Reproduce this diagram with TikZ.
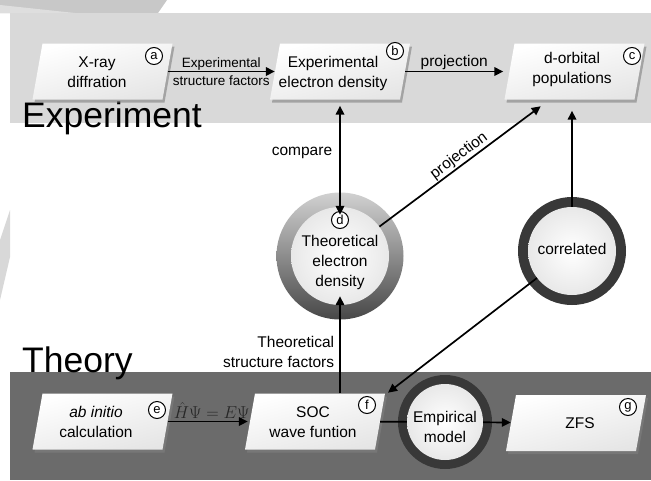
\documentclass[tikz,border=0pt]{standalone}
\usepackage{fontspec}
\setmainfont{Liberation Sans}
\usetikzlibrary{shadows,arrows.meta,calc}
\definecolor{expband}{HTML}{D9D9D9}
\definecolor{thband}{HTML}{6B6B6B}
\definecolor{wmark}{HTML}{C8C8C8}
\definecolor{darkring}{HTML}{383838}
\tikzset{
  boxfill/.style={top color=white, bottom color=black!10, shading angle=15,
    drop shadow={shadow xshift=2pt, shadow yshift=-3pt, opacity=0.6}},
  boxnode/.style={rectangle, minimum width=130pt, minimum height=56pt, inner sep=0pt},
  boxtext/.style={align=center, font=\fontsize{15.5}{20}\selectfont, inner sep=0pt},
  tag/.style={circle, draw=black, line width=1pt, fill=white, minimum size=17pt,
    inner sep=0pt, font=\fontsize{13}{13}\selectfont},
  innerc/.style={circle, inner sep=0pt, inner color=white, outer color=black!9},
  arr/.style={line width=1.7pt, -{Triangle[length=9pt,width=8.5pt]}},
  darr/.style={line width=1.7pt, {Triangle[length=9pt,width=8.5pt]}-{Triangle[length=9pt,width=8.5pt]}},
  plain/.style={line width=1.7pt},
  lbl/.style={inner sep=0pt, font=\fontsize{15.5}{20}\selectfont, align=center},
  slbl/.style={inner sep=0pt, font=\fontsize{13.5}{15}\selectfont},
  big/.style={inner sep=0pt, anchor=base west, font=\fontsize{35.5}{40}\selectfont}
}
\newcommand\slbox[3]{%
  \shade[boxfill] ({#2-60},{#3-28}) -- ({#2+70},{#3-28}) -- ({#2+60},{#3+28}) -- ({#2-70},{#3+28}) -- cycle;
  \node[boxnode] (#1) at (#2,#3) {};}
\begin{document}
\begin{tikzpicture}[x=1pt,y=-1pt]
\useasboundingbox (0,0) rectangle (651,480);
\fill[white] (0,0) rectangle (651,480);
% watermark pieces
\fill[wmark] (0,0) -- (167,0) -- (158,13) -- (0,13) -- cycle;
\fill[wmark!60] (0,5) -- (75,13) -- (0,13) -- cycle;
\fill[wmark!70] (0,240) -- (10,210) -- (10,257) -- (0,300) -- cycle;
% bands
\fill[expband] (10,13) rectangle (651,123);
\fill[thband] (10,372) rectangle (651,480);
\node[big] (lexp) at (22,127) {Experiment};
\node[big] (lth) at (22,372) {Theory};
% parallelogram boxes
\slbox{a}{102.5}{71.5}
\slbox{b}{340}{71.5}
\slbox{c}{574.5}{71.5}
\slbox{e}{102.5}{421.5}
\slbox{f}{315}{421.5}
\slbox{g}{576}{423}
\node[boxtext] (at) at (97,72) {X-ray\\diffration};
\node[boxtext] (bt) at (333,73) {Experimental\\electron density};
\node[boxtext] (ct) at (572,69) {d-orbital\\populations};
\node[boxtext] (et) at (96,422) {\itshape ab initio\\calculation};
\node[boxtext] (ft) at (313,422) {SOC\\wave funtion};
\node[boxtext] (gt) at (580,423) {ZFS};
% circles
\shade[top color=black!18, bottom color=black!72] (340,256) circle[radius=63.5pt];
\node[innerc, minimum size=98pt] (d) at (340,256) {};
\node[boxtext] (dt) at (340,262) {Theoretical\\electron\\density};
\fill[darkring] (572,251) circle[radius=54pt];
\node[innerc, minimum size=88pt] (corr) at (572,251) {};
\node[boxtext] (corrt) at (572,249) {correlated};
\fill[darkring] (445,422) circle[radius=47pt];
\node[innerc, minimum size=76pt] (emp) at (445,422) {};
\node[boxtext] (empt) at (445,427) {Empirical\\model};
% tags
\node[tag] (ta) at (154,56) {a};
\node[tag] (tb) at (395,51) {b};
\node[tag] (tc) at (632,56) {c};
\node[tag] (td) at (340,220) {d};
\node[tag] (te) at (157,410) {e};
\node[tag] (tf) at (367,405) {f};
\node[tag] (tg) at (628,407) {g};
% connectors
\draw[arr] (a) -- (b)
  node[midway, above=0pt, slbl] (l1) {Experimental}
  node[midway, below=3pt, slbl] (l2) {structure factors};
\draw[arr, shorten >=6pt] (b) -- (c)
  node[midway, above=1pt, lbl, xshift=-3pt] (l3) {projection};
\draw[darr, shorten <=6pt, shorten >=-8pt] (b) -- (d)
  node[midway, left=7pt, lbl] (l4) {compare};
\draw[arr, shorten >=11pt] (d) -- ([xshift=-25pt]c.south)
  node[midway, above=1pt, sloped, lbl] (l5) {projection};
\draw[arr, shorten >=11pt] (corr) -- (corr |- c.south);
\draw[arr, shorten >=1pt] (corr) -- ([xshift=7pt]f.north east);
\draw[arr, shorten >=-9pt] (d |- f.north) -- (d)
  node[midway, left=5pt, lbl, align=right, yshift=-3pt] (l6) {Theoretical\\structure factors};
\draw[arr, shorten >=2pt] (e) -- (f)
  node[midway, above=2pt, inner sep=0pt, xshift=3pt, text=black!85, font=\fontsize{19}{19}\selectfont] (l7) {$\hat{H}\Psi = E\Psi$};
\draw[plain] (f) -- (emp);
\draw[arr] (emp) -- (g);
\end{tikzpicture}
\end{document}
